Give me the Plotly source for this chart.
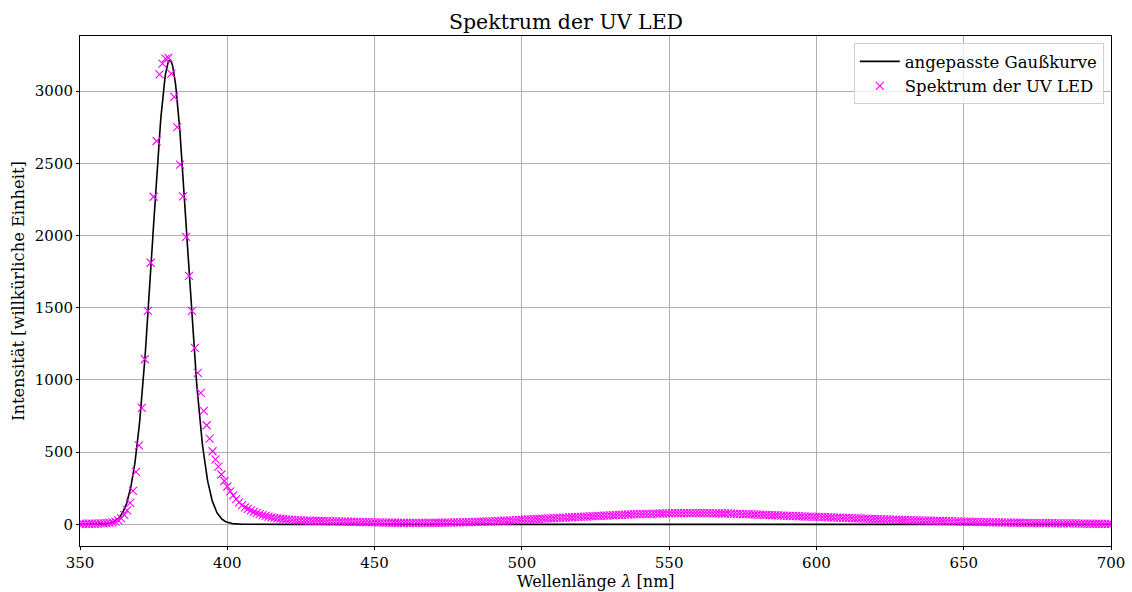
import numpy as np
import plotly.graph_objects as go

# Measured spectrum of the UV LED, one value per nanometre from 350 to 700 nm
wavelength_nm = list(range(350, 701))
intensity = [
    # 350-362
    4, 4, 3, 4, 5, 4, 5, 6, 7, 8, 10, 13, 18,
    # 363-392
    28, 42, 66, 97, 148, 231, 363, 547, 806, 1143, 1478, 1811, 2268, 2654, 3116,
    3190, 3225, 3230, 3120, 2960, 2750, 2490, 2270, 1990, 1720, 1478, 1222, 1049,
    910, 785,
    # 393-425
    686, 594, 506, 450, 400, 345, 300, 262, 228, 200, 175, 152, 133, 118, 107, 96,
    86, 78, 71, 64, 58, 53, 48, 45, 42, 39, 37, 35, 33, 31, 29, 28, 27,
    # 426-435
    26, 25, 25, 24, 24, 23, 23, 22, 22, 21,
    # 436-449
    21, 20, 20, 19, 19, 18, 18, 17, 17, 16, 16, 15, 15, 14,
    # 450-475
    14, 13, 13, 12, 12, 12, 11, 11, 11, 10, 10, 10, 10, 10, 10, 10, 10, 10, 10, 10,
    10, 11, 11, 11, 12, 12,
    # 476-499
    12, 13, 13, 14, 14, 15, 15, 16, 17, 17, 18, 19, 20, 20, 21, 22, 23, 24, 25, 26,
    27, 28, 29, 31,
    # 500-519
    32, 33, 34, 35, 36, 37, 38, 39, 40, 41, 42, 43, 44, 45, 46, 47, 48, 49, 50, 51,
    # 520-549
    52, 53, 54, 55, 56, 57, 58, 59, 60, 61, 62, 63, 64, 65, 66, 67, 68, 69, 70, 70,
    71, 72, 72, 73, 73, 74, 74, 75, 75, 76,
    # 550-569
    76, 77, 77, 77, 78, 78, 78, 78, 78, 78, 78, 77, 77, 77, 77, 76, 76, 76, 75, 75,
    # 570-599
    77, 74, 73, 73, 72, 71, 71, 70, 69, 68, 67, 67, 66, 65, 64, 63, 63, 62, 61, 60,
    59, 58, 58, 57, 56, 55, 54, 54, 53, 52,
    # 600-639
    52, 51, 50, 50, 49, 48, 47, 47, 46, 45, 44, 44, 43, 42, 41, 41, 40, 39, 38, 38,
    37, 36, 35, 35, 34, 33, 32, 32, 31, 30, 30, 29, 29, 28, 27, 27, 26, 26, 25, 25,
    # 640-669
    24, 24, 23, 23, 22, 22, 21, 20, 20, 19, 19, 18, 18, 17, 17, 16, 16, 15, 15, 14,
    14, 14, 13, 13, 12, 12, 12, 11, 11, 11,
    # 670-700
    10, 10, 10, 9, 9, 9, 9, 8, 8, 8, 8, 7, 7, 7, 7, 6, 6, 6, 6, 5, 5, 5, 5, 4, 4, 4,
    4, 3, 3, 3, 3,
]
assert len(intensity) == len(wavelength_nm)

# Parameters of the fitted Gaussian
fit_amplitude = 3215.0
fit_center = 380.5
fit_sigma = 5.9

x_fit = np.linspace(350, 700, 2000)
y_fit = fit_amplitude * np.exp(-((x_fit - fit_center) ** 2) / (2 * fit_sigma ** 2))

x_ticks = [350, 400, 450, 500, 550, 600, 650, 700]
y_ticks = [0, 500, 1000, 1500, 2000, 2500, 3000]

FONT = "DejaVu Serif"

fig = go.Figure()
fig.add_trace(go.Scatter(
    x=x_fit, y=y_fit, mode="lines",
    line=dict(color="black", width=1.6),
    name="angepasste Gaußkurve",
))
fig.add_trace(go.Scatter(
    x=wavelength_nm, y=intensity, mode="markers",
    marker=dict(symbol="x-thin", size=8, line=dict(color="magenta", width=1.1),
                color="magenta"),
    name="Spektrum der UV LED",
))

axis_common = dict(
    showline=True, linecolor="black", linewidth=1, mirror=True,
    showgrid=True, gridcolor="#b0b0b0", gridwidth=0.8,
    ticks="outside", ticklen=3, tickwidth=1, tickcolor="black",
    zeroline=False, automargin=False,
    tickfont=dict(family=FONT, size=15, color="black"),
)

fig.update_layout(
    width=1132, height=592,
    margin=dict(l=80, r=21, t=36, b=46),
    paper_bgcolor="white", plot_bgcolor="white",
    font=dict(family=FONT, color="black"),
    title=dict(text="Spektrum der UV LED", x=0.5, xanchor="center",
               y=1 - 22 / 592, yanchor="middle",
               font=dict(family=FONT, size=20.5, color="black")),
    xaxis=dict(range=[350, 700], tickvals=x_ticks, **axis_common),
    yaxis=dict(range=[-150, 3381], tickvals=y_ticks, **axis_common),
    legend=dict(x=0.993, xanchor="right", y=0.986, yanchor="top",
                bgcolor="rgba(255,255,255,0.8)", bordercolor="#d0d0d0", borderwidth=1,
                font=dict(family=FONT, size=16.5, color="black"),
                itemwidth=40, tracegroupgap=0),
    showlegend=True,
    annotations=[
        dict(text="Wellenlänge <i>λ</i> [nm]", xref="paper", yref="paper",
             x=0.5, y=0, xanchor="center", yanchor="bottom", yshift=-46,
             borderpad=0, showarrow=False,
             font=dict(family=FONT, size=16, color="black")),
        dict(text="Intensität [willkürliche Einheit]", xref="paper", yref="paper",
             x=0, y=0.5, xanchor="center", yanchor="middle", xshift=-62,
             textangle=-90, showarrow=False,
             font=dict(family=FONT, size=16.3, color="black")),
    ],
)

fig.write_html("out.html")
